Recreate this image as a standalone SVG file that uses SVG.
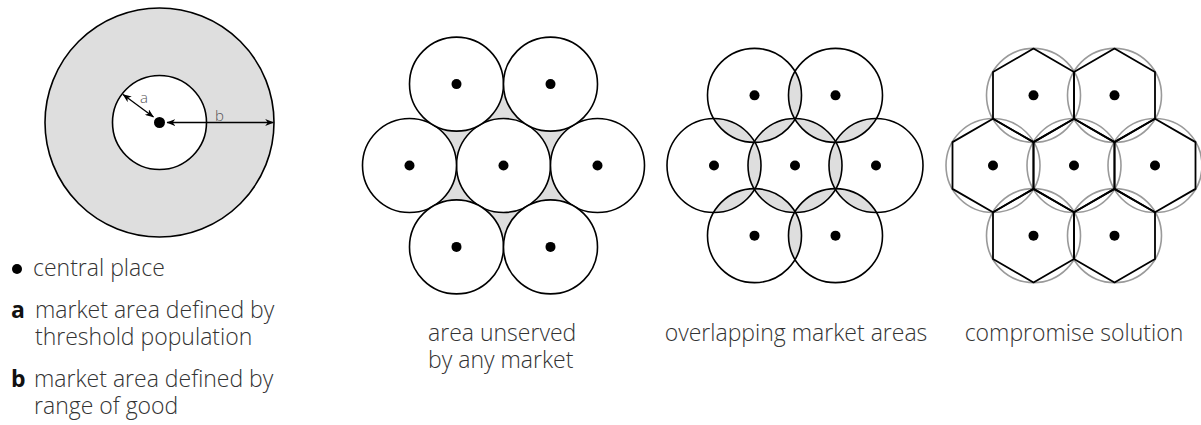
<svg xmlns="http://www.w3.org/2000/svg" xmlns:xlink="http://www.w3.org/1999/xlink" width="1201" height="425" viewBox="0 0 1201 425">
<style>
.txt{font-family:"Open Sans","Noto Sans","DejaVu Sans",sans-serif;font-size:23px;font-weight:300;fill:#333}
.bold{font-weight:700;fill:#111}
.lbl{font-family:"Open Sans","Noto Sans","DejaVu Sans",sans-serif;font-size:15px;font-weight:300;fill:#555}
.ring{fill:none;stroke:#000;stroke-width:1.6}
.wring{fill:#fff;stroke:#000;stroke-width:1.6}
.gring{fill:none;stroke:#9a9a9a;stroke-width:1.6}
.hex{fill:none;stroke:#000;stroke-width:1.8;stroke-linejoin:round}
.dot{fill:#000}
.lens{fill:#dedede;stroke:none}
.arr{stroke:#000;stroke-width:1.3;fill:none;marker-start:url(#ah);marker-end:url(#ah)}
</style>
<defs>
<marker id="ah" viewBox="0 0 10 8" refX="9.5" refY="4" markerWidth="9" markerHeight="7" markerUnits="userSpaceOnUse" orient="auto-start-reverse">
<path d="M0,0 L10,4 L0,8 L3,4 Z" fill="#000"/>
</marker>
<path id="lens" d="M0,-23.85 A47,47 0 0 1 0,23.85 A47,47 0 0 1 0,-23.85 Z"/>
<polygon id="hexa" points="0,-46.77 40.5,-23.38 40.5,23.38 0,46.77 -40.5,23.38 -40.5,-23.38"/>
</defs>

<g id="range-diagram">
<circle cx="159.5" cy="122.5" r="114.5" fill="#dedede" stroke="#000" stroke-width="1.6"/>
<circle cx="159.5" cy="122.5" r="47" class="wring"/>
<circle cx="159.5" cy="122.5" r="5.5" class="dot"/>
<text class="lbl" x="140" y="103">a</text>
<text class="lbl" x="215" y="121">b</text>
</g>

<g id="connectors">
<line class="arr" x1="123" y1="94.5" x2="153.5" y2="117"/>
<line class="arr" x1="167" y1="122.5" x2="273.5" y2="122.5"/>
</g>

<g id="legend">
<circle cx="17" cy="269" r="5" class="dot"/>
<text class="txt" x="33" y="276">central place</text>
<text class="txt" y="318"><tspan class="bold" x="11">a</tspan><tspan x="35">market area defined by</tspan></text>
<text class="txt" x="35" y="345">threshold population</text>
<text class="txt" y="387"><tspan class="bold" x="11">b</tspan><tspan x="34">market area defined by</tspan></text>
<text class="txt" x="34" y="414">range of good</text>
</g>

<g id="unserved-diagram">
<polygon points="597.5,165.5 550.5,246.9 456.5,246.9 409.5,165.5 456.5,84.1 550.5,84.1" fill="#dedede"/>
<circle class="wring" cx="503.5" cy="165.5" r="47"/>
<circle class="wring" cx="597.5" cy="165.5" r="47"/>
<circle class="wring" cx="409.5" cy="165.5" r="47"/>
<circle class="wring" cx="456.5" cy="84.1" r="47"/>
<circle class="wring" cx="550.5" cy="84.1" r="47"/>
<circle class="wring" cx="456.5" cy="246.9" r="47"/>
<circle class="wring" cx="550.5" cy="246.9" r="47"/>
<circle class="dot" cx="503.5" cy="165.5" r="5"/>
<circle class="dot" cx="597.5" cy="165.5" r="5"/>
<circle class="dot" cx="409.5" cy="165.5" r="5"/>
<circle class="dot" cx="456.5" cy="84.1" r="5"/>
<circle class="dot" cx="550.5" cy="84.1" r="5"/>
<circle class="dot" cx="456.5" cy="246.9" r="5"/>
<circle class="dot" cx="550.5" cy="246.9" r="5"/>
<text class="txt" x="428" y="341">area unserved</text>
<text class="txt" x="428" y="368">by any market</text>
</g>

<g id="overlapping-diagram">
<use href="#lens" class="lens" transform="translate(835.5,165.5)"/>
<use href="#lens" class="lens" transform="translate(815.25,200.57) rotate(60)"/>
<use href="#lens" class="lens" transform="translate(774.75,200.57) rotate(120)"/>
<use href="#lens" class="lens" transform="translate(754.5,165.5)"/>
<use href="#lens" class="lens" transform="translate(774.75,130.43) rotate(60)"/>
<use href="#lens" class="lens" transform="translate(815.25,130.43) rotate(120)"/>
<use href="#lens" class="lens" transform="translate(855.75,200.57) rotate(120)"/>
<use href="#lens" class="lens" transform="translate(795,235.65)"/>
<use href="#lens" class="lens" transform="translate(734.25,200.57) rotate(60)"/>
<use href="#lens" class="lens" transform="translate(734.25,130.43) rotate(120)"/>
<use href="#lens" class="lens" transform="translate(795,95.35)"/>
<use href="#lens" class="lens" transform="translate(855.75,130.43) rotate(60)"/>
<circle class="ring" cx="795" cy="165.5" r="47"/>
<circle class="ring" cx="876" cy="165.5" r="47"/>
<circle class="ring" cx="714" cy="165.5" r="47"/>
<circle class="ring" cx="754.5" cy="95.35" r="47"/>
<circle class="ring" cx="835.5" cy="95.35" r="47"/>
<circle class="ring" cx="754.5" cy="235.65" r="47"/>
<circle class="ring" cx="835.5" cy="235.65" r="47"/>
<circle class="dot" cx="795" cy="165.5" r="5"/>
<circle class="dot" cx="876" cy="165.5" r="5"/>
<circle class="dot" cx="714" cy="165.5" r="5"/>
<circle class="dot" cx="754.5" cy="95.35" r="5"/>
<circle class="dot" cx="835.5" cy="95.35" r="5"/>
<circle class="dot" cx="754.5" cy="235.65" r="5"/>
<circle class="dot" cx="835.5" cy="235.65" r="5"/>
<text class="txt" x="796" y="341" text-anchor="middle">overlapping market areas</text>
</g>

<g id="compromise-diagram">
<circle class="gring" cx="1074" cy="165.5" r="47"/>
<circle class="gring" cx="1155" cy="165.5" r="47"/>
<circle class="gring" cx="993" cy="165.5" r="47"/>
<circle class="gring" cx="1033.5" cy="95.35" r="47"/>
<circle class="gring" cx="1114.5" cy="95.35" r="47"/>
<circle class="gring" cx="1033.5" cy="235.65" r="47"/>
<circle class="gring" cx="1114.5" cy="235.65" r="47"/>
<use href="#hexa" class="hex" transform="translate(1074,165.5)"/>
<use href="#hexa" class="hex" transform="translate(1155,165.5)"/>
<use href="#hexa" class="hex" transform="translate(993,165.5)"/>
<use href="#hexa" class="hex" transform="translate(1033.5,95.35)"/>
<use href="#hexa" class="hex" transform="translate(1114.5,95.35)"/>
<use href="#hexa" class="hex" transform="translate(1033.5,235.65)"/>
<use href="#hexa" class="hex" transform="translate(1114.5,235.65)"/>
<circle class="dot" cx="1074" cy="165.5" r="5"/>
<circle class="dot" cx="1155" cy="165.5" r="5"/>
<circle class="dot" cx="993" cy="165.5" r="5"/>
<circle class="dot" cx="1033.5" cy="95.35" r="5"/>
<circle class="dot" cx="1114.5" cy="95.35" r="5"/>
<circle class="dot" cx="1033.5" cy="235.65" r="5"/>
<circle class="dot" cx="1114.5" cy="235.65" r="5"/>
<text class="txt" x="1074" y="341" text-anchor="middle">compromise solution</text>
</g>
</svg>
